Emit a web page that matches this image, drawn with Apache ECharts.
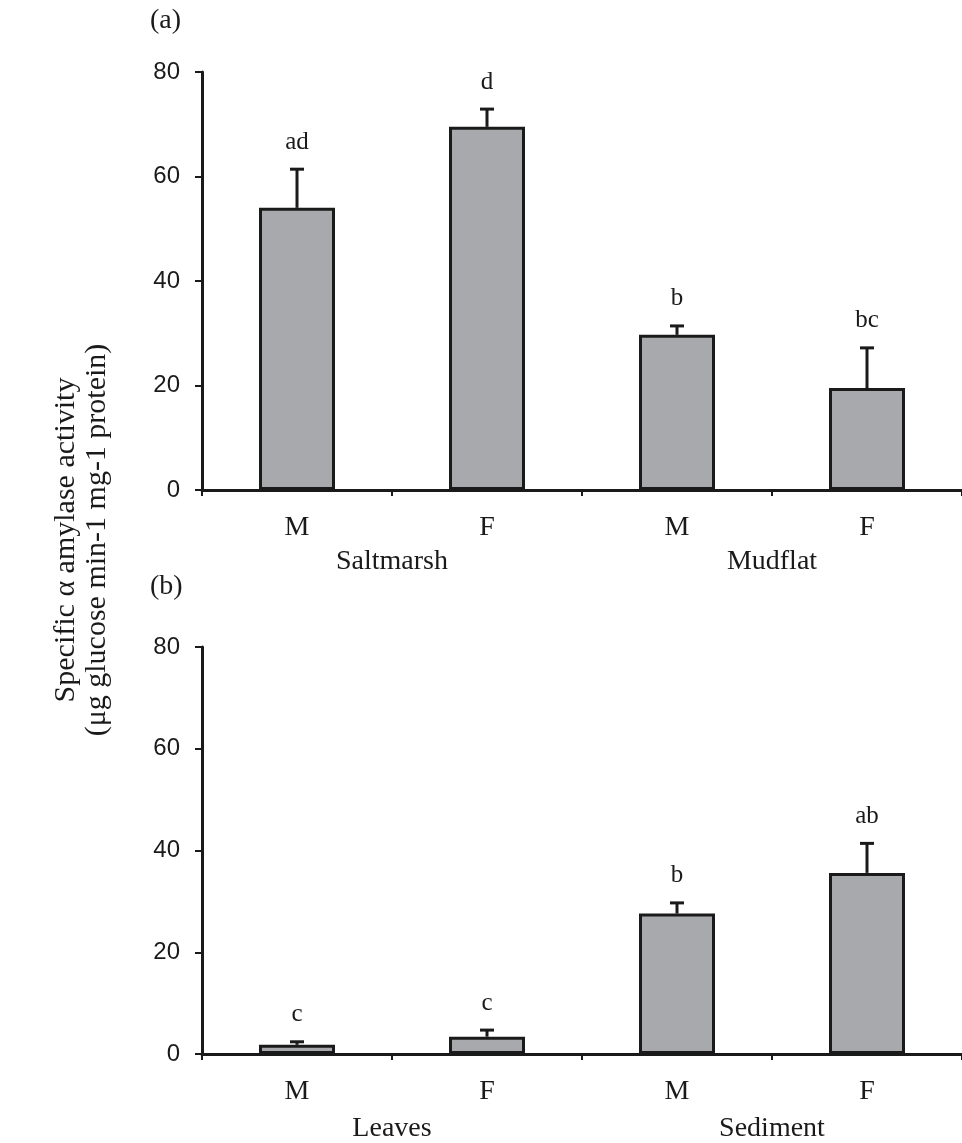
<!DOCTYPE html>
<html>
<head>
<meta charset="utf-8">
<script src="https://cdn.jsdelivr.net/npm/echarts@6/dist/echarts.min.js"></script>
<style>
html,body{margin:0;padding:0;background:#fff;}
#chart{width:962px;height:1143px;}
</style>
</head>
<body>
<div id="chart"></div>
<script>
// ---- data ----
var sexCategories = ['M', 'F', 'M', 'F'];
var yTicks = [0, 20, 40, 60, 80];

var panelAGroups = ['Saltmarsh', 'Mudflat'];
var panelAMeans = [54.0, 69.5, 29.7, 19.5];
var panelAUpper = [61.4, 72.9, 31.4, 27.2];
var panelALetters = ['ad', 'd', 'b', 'bc'];

var panelBGroups = ['Leaves', 'Sediment'];
var panelBMeans = [1.8, 3.4, 27.6, 35.6];
var panelBUpper = [2.4, 4.7, 29.7, 41.4];
var panelBLetters = ['c', 'c', 'b', 'ab'];

var yTitleLines = ['Specific \u03b1 amylase activity', '(\u03bcg glucose min-1 mg-1 protein)'];

// ---- styling ----
var SERIF = '"Liberation Serif", "Times New Roman", serif';
var SANS = '"Liberation Sans", Arial, sans-serif';
var INK = '#1a1a1a';

var chart = echarts.init(document.getElementById('chart'), null, {renderer: 'canvas'});

function catAxis(gridIndex) {
  return {
    type: 'category', gridIndex: gridIndex, data: sexCategories,
    boundaryGap: true,
    axisLine: {show: true, lineStyle: {color: INK, width: 3}},
    axisTick: {show: true, length: 6, lineStyle: {color: INK, width: 2}},
    axisLabel: {margin: 24, fontFamily: SERIF, fontSize: 28, color: INK},
    splitLine: {show: false}
  };
}
function groupAxis(gridIndex, groups, offset) {
  return {
    type: 'category', gridIndex: gridIndex, data: groups, position: 'bottom',
    offset: offset,
    axisLine: {show: false}, axisTick: {show: false},
    axisLabel: {margin: 8, fontFamily: SERIF, fontSize: 28, color: INK},
    splitLine: {show: false}
  };
}
function valAxis(gridIndex) {
  return {
    type: 'value', gridIndex: gridIndex, min: yTicks[0], max: yTicks[yTicks.length - 1],
    interval: yTicks[1] - yTicks[0],
    axisLine: {show: true, lineStyle: {color: INK, width: 3}},
    axisTick: {show: true, length: 7, lineStyle: {color: INK, width: 2}},
    axisLabel: {margin: 22, fontFamily: SANS, fontSize: 24, color: INK},
    splitLine: {show: false}
  };
}
function barSeries(axisIdx, means) {
  return {
    type: 'bar', xAxisIndex: axisIdx, yAxisIndex: axisIdx / 2, data: means,
    barWidth: '40%',
    itemStyle: {color: '#a7a9ac', borderColor: INK, borderWidth: 3},
    silent: true, z: 2
  };
}
function errSeries(axisIdx, means, upper, letters) {
  var data = means.map(function (m, i) { return [i, m, upper[i]]; });
  return {
    type: 'custom', xAxisIndex: axisIdx, yAxisIndex: axisIdx / 2, data: data, z: 5, silent: true,
    renderItem: function (params, api) {
      var i = api.value(0);
      var base = api.coord([i, api.value(1)]);
      var top = api.coord([i, api.value(2)]);
      var letter = letters[params.dataIndex];
      var cap = 7;
      return {
        type: 'group',
        children: [
          {type: 'line', shape: {x1: base[0], y1: base[1], x2: top[0], y2: top[1]}, style: {stroke: INK, lineWidth: 3}},
          {type: 'line', shape: {x1: top[0] - cap, y1: top[1], x2: top[0] + cap, y2: top[1]}, style: {stroke: INK, lineWidth: 3}},
          {type: 'text', x: top[0], y: top[1] - 27, style: {text: letter, font: '25px ' + SERIF, fill: INK, align: 'center', verticalAlign: 'middle'}}
        ]
      };
    }
  };
}

var option = {
  animation: false,
  backgroundColor: '#ffffff',
  grid: [
    {left: 202, top: 72, width: 772, height: 418, containLabel: false},
    {left: 202, top: 647, width: 772, height: 407, containLabel: false}
  ],
  xAxis: [
    catAxis(0), groupAxis(0, panelAGroups, 50),
    catAxis(1), groupAxis(1, panelBGroups, 53)
  ],
  yAxis: [valAxis(0), valAxis(1)],
  series: [
    barSeries(0, panelAMeans), errSeries(0, panelAMeans, panelAUpper, panelALetters),
    barSeries(2, panelBMeans), errSeries(2, panelBMeans, panelBUpper, panelBLetters)
  ],
  graphic: [
    {type: 'text', left: 150, top: 7, style: {text: '(a)', font: '28px ' + SERIF, fill: INK}},
    {type: 'text', left: 150, top: 573, style: {text: '(b)', font: '28px ' + SERIF, fill: INK}},
    {type: 'text', x: 66, y: 540, rotation: Math.PI / 2,
      style: {text: yTitleLines[0], font: '30px ' + SERIF, fill: INK, align: 'center', verticalAlign: 'middle'}},
    {type: 'text', x: 97, y: 540, rotation: Math.PI / 2,
      style: {text: yTitleLines[1], font: '30px ' + SERIF, fill: INK, align: 'center', verticalAlign: 'middle'}}
  ]
};
chart.setOption(option);
</script>
</body>
</html>
